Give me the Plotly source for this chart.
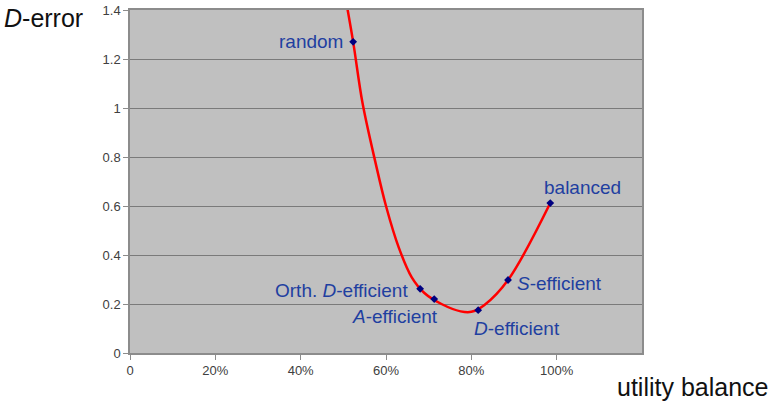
import plotly.graph_objects as go

# Design points (utility balance, D-error)
point_names = ["random", "Orth. <i>D</i>-efficient", "<i>A</i>-efficient",
               "<i>D</i>-efficient", "<i>S</i>-efficient", "balanced"]
point_x = [0.523, 0.680, 0.713, 0.816, 0.886, 0.985]
point_y = [1.27, 0.262, 0.22, 0.175, 0.298, 0.612]

# Smoothed trend curve
curve_x = [0.505, 0.523, 0.545, 0.575, 0.600, 0.630, 0.660, 0.690, 0.730, 0.775, 0.800, 0.830, 0.886, 0.985]
curve_y = [1.45, 1.27, 1.02, 0.78, 0.60, 0.43, 0.31, 0.245, 0.200, 0.170, 0.168, 0.195, 0.298, 0.612]

y_ticks = [0, 0.2, 0.4, 0.6, 0.8, 1.0, 1.2, 1.4]
y_tick_text = ["0", "0.2", "0.4", "0.6", "0.8", "1", "1.2", "1.4"]
x_ticks = [0, 0.2, 0.4, 0.6, 0.8, 1.0]
x_tick_text = ["0", "20%", "40%", "60%", "80%", "100%"]

# label anchors: (xanchor, yanchor, xshift, yshift)
label_pos = [
    ("right", "middle", -8, 0),
    ("right", "middle", -10, -2),
    ("right", "top", 6, -5),
    ("left", "top", -6, -6),
    ("left", "middle", 7, -4),
    ("left", "bottom", -8, 3),
]

fig = go.Figure()
fig.add_trace(go.Scatter(x=curve_x, y=curve_y, mode="lines",
                         line=dict(color="#ff0000", width=2.5, shape="spline", smoothing=1.0),
                         hoverinfo="skip", showlegend=False))
fig.add_trace(go.Scatter(x=point_x, y=point_y, mode="markers",
                         marker=dict(symbol="diamond", size=6, color="#000080"),
                         showlegend=False))

label_font = dict(family="Liberation Sans, Arial, sans-serif", size=19, color="#1f3fa0")
for name, x, y, (xa, ya, xs, ys) in zip(point_names, point_x, point_y, label_pos):
    fig.add_annotation(x=x, y=y, text=name, showarrow=False, xanchor=xa, yanchor=ya,
                       xshift=xs, yshift=ys, font=label_font)

fig.add_annotation(xref="paper", yref="paper", x=-0.25, y=1.0, xanchor="left", yanchor="top",
                   text="<i>D</i>-error", showarrow=False, yshift=8,
                   font=dict(family="Liberation Sans, Arial, sans-serif", size=25, color="#111111"))
fig.add_annotation(xref="paper", yref="paper", x=1.25, y=0, xanchor="right", yanchor="top",
                   text="utility balance", showarrow=False, yshift=-18,
                   font=dict(family="Liberation Sans, Arial, sans-serif", size=25, color="#111111"))

tick_font = dict(family="Liberation Sans, Arial, sans-serif", size=13, color="#404040")
fig.update_xaxes(range=[0, 1.2], tickvals=x_ticks, ticktext=x_tick_text, showgrid=False,
                 zeroline=False, showline=True, linecolor="#8c8c8c", linewidth=1.5, mirror=True,
                 ticks="outside", ticklen=5, tickcolor="#8c8c8c", tickfont=tick_font,
                 automargin=False)
fig.update_yaxes(range=[0, 1.4], tickvals=y_ticks, ticktext=y_tick_text, showgrid=True,
                 gridcolor="#7a7a7a", gridwidth=1, zeroline=False, showline=True,
                 linecolor="#8c8c8c", linewidth=1.5, mirror=True,
                 ticks="outside", ticklen=5, tickcolor="#8c8c8c", tickfont=tick_font,
                 automargin=False)

fig.update_layout(width=773, height=408, margin=dict(l=130, r=131, t=10, b=55),
                  plot_bgcolor="#c0c0c0", paper_bgcolor="white")

fig.write_html("out.html")
